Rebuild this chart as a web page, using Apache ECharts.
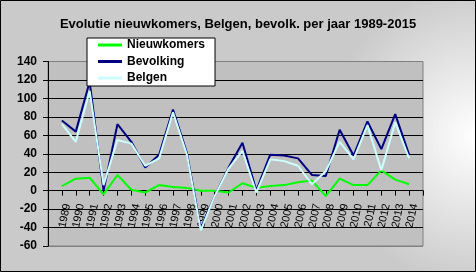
<!DOCTYPE html>
<html>
<head>
<meta charset="utf-8">
<script src="https://cdn.jsdelivr.net/npm/echarts@6/dist/echarts.min.js"></script>
<style>
html,body{margin:0;padding:0;background:#fff;}
#c{width:476px;height:272px;}
</style>
</head>
<body>
<div id="c"></div>
<script>
const years = ['1989','1990','1991','1992','1993','1994','1995','1996','1997','1998','1999','2000','2001','2002','2003','2004','2005','2006','2007','2008','2009','2010','2011','2012','2013','2014'];
const nieuwkomers = [5, 13, 14, -4, 17, 1, -2, 6, 4, 3, 0, 0, -2, 8, 3, 5, 6, 9, 11, -6, 13, 6, 6, 22, 12, 7];
const bevolking = [76, 64, 118, 0, 72, 53, 25, 39, 88, 41, -41, -6, 25, 52, 0, 39, 38, 35, 17, 16, 66, 38, 75, 45, 83, 39];
const belgen = [72, 53, 108, 6, 55, 51, 27, 35, 85, 39, -43, -6, 24, 43, -2, 34, 32, 27, 7, 21, 53, 34, 71, 22, 74, 35];
const yTicks = {min: -60, max: 140, interval: 20};
const titleText = 'Evolutie nieuwkomers, Belgen, bevolk. per jaar 1989-2015';

// category axis padded with an empty slot on each side (points sit on ticks)
const cats = [''].concat(years, ['']);
const pad = arr => [null].concat(arr, [null]);

const gridTop = 61.5, gridBottom = 26, H = 272;
const plotH = H - gridTop - gridBottom;
// shift the x axis up so it crosses the value axis at 0
const zeroOffset = -plotH * (0 - yTicks.min) / (yTicks.max - yTicks.min);

const chart = echarts.init(document.getElementById('c'), null, {renderer: 'canvas'});
const splitColors = [];
for (let v = yTicks.min; v <= yTicks.max; v += yTicks.interval) {
  splitColors.push((v === yTicks.min || v === yTicks.max) ? '#808080' : '#000000');
}
const font = 'Arial, "Liberation Sans", sans-serif';
chart.setOption({
  animation: false,
  backgroundColor: {
    type: 'radial', x: 1, y: 0.5, r: 0.55,
    colorStops: [{offset: 0, color: '#ffffff'}, {offset: 1, color: '#cacaca'}]
  },
  title: {
    text: titleText,
    left: 'center',
    top: 13,
    textStyle: {fontFamily: font, fontSize: 13, fontWeight: 'bold', color: '#000'}
  },
  legend: {
    orient: 'vertical',
    left: 87,
    top: 38,
    padding: [1, 10, 2, 11],
    itemGap: 4.5,
    itemWidth: 24,
    itemHeight: 3,
    icon: 'rect',
    backgroundColor: '#ffffff',
    borderColor: '#000000',
    borderWidth: 1,
    borderRadius: 0,
    textStyle: {fontFamily: font, fontSize: 12, fontWeight: 'bold', color: '#000'},
    data: ['Nieuwkomers', 'Bevolking', 'Belgen']
  },
  grid: {
    left: 48, right: 53, top: gridTop, bottom: gridBottom,
    containLabel: false,
    outerBoundsMode: 'none',
    show: true,
    backgroundColor: '#c0c0c0',
    borderColor: '#808080',
    borderWidth: 1
  },
  xAxis: {
    type: 'category',
    data: cats,
    boundaryGap: false,
    offset: zeroOffset,
    axisLine: {onZero: false, lineStyle: {color: '#000', width: 1}},
    axisTick: {show: true, interval: 0, length: 5, inside: false, lineStyle: {color: '#000'}},
    axisLabel: {
      interval: 0, rotate: 78, margin: 12,
      verticalAlign: 'top',
      hideOverlap: false,
      fontFamily: font, fontSize: 11, color: '#000'
    },
    splitLine: {show: false}
  },
  yAxis: {
    type: 'value',
    min: yTicks.min, max: yTicks.max, interval: yTicks.interval,
    axisLine: {show: true, onZero: false, lineStyle: {color: '#000', width: 1}},
    axisTick: {show: true, length: 5, lineStyle: {color: '#000'}},
    axisLabel: {margin: 11, fontFamily: font, fontSize: 12, fontWeight: 'bold', color: '#000'},
    splitLine: {show: true, lineStyle: {color: splitColors, width: 1}}
  },
  series: [
    {name: 'Nieuwkomers', type: 'line', data: pad(nieuwkomers), symbol: 'none',
     lineStyle: {color: '#00ff00', width: 2}, itemStyle: {color: '#00ff00'}},
    {name: 'Bevolking', type: 'line', data: pad(bevolking), symbol: 'none',
     lineStyle: {color: '#000080', width: 2}, itemStyle: {color: '#000080'}},
    {name: 'Belgen', type: 'line', data: pad(belgen), symbol: 'none',
     lineStyle: {color: '#ccffff', width: 2}, itemStyle: {color: '#ccffff'}}
  ],
  graphic: [{
    type: 'rect', z: 100, silent: true,
    shape: {x: 0.5, y: 0.5, width: 475, height: 271},
    style: {fill: null, stroke: '#000', lineWidth: 1}
  }]
});
</script>
</body>
</html>
